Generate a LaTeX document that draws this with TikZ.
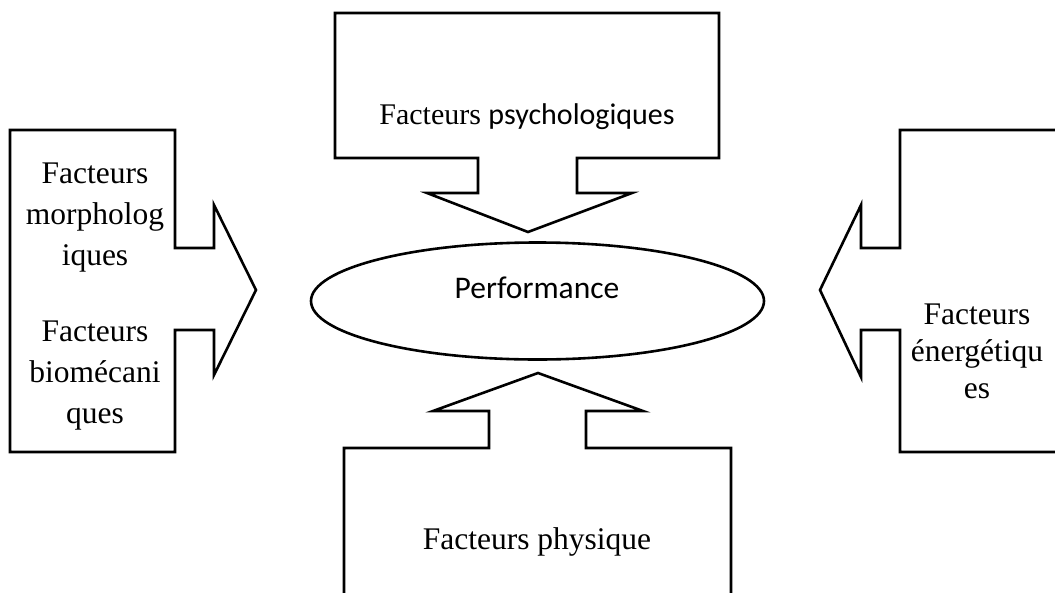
\documentclass[tikz,border=0pt]{standalone}
\usepackage{fontspec}
\setmainfont{Liberation Serif}
\newfontfamily\calibri{Carlito}
\usetikzlibrary{shapes.geometric}
\begin{document}
\begin{tikzpicture}[x=1pt,y=-1pt,line width=2.6pt,line join=miter]
	\tikzset{every node/.style={inner sep=0pt,font=\fontsize{31.5}{41}\selectfont,align=center}}
	\useasboundingbox (0,0) rectangle (1055,592);
	% callout arrows
	\draw (335,13) -- (719,13) -- (719,158) -- (577,158) -- (577,193) -- (632,193) -- (528,232) -- (427,193) -- (478,193) -- (478,158) -- (335,158) -- cycle;
	\draw (10,130) -- (175,130) -- (175,248) -- (214,248) -- (214,205) -- (256,290) -- (214,375) -- (214,330) -- (175,330) -- (175,452) -- (10,452) -- cycle;
	\draw (1070,130) -- (900,130) -- (900,248) -- (861,248) -- (861,205) -- (820,290) -- (861,377) -- (861,330) -- (900,330) -- (900,452) -- (1070,452);
	\draw (344,600) -- (344,448) -- (489,448) -- (489,411) -- (433,411) -- (538,373) -- (643,411) -- (586,411) -- (586,448) -- (731,448) -- (731,600);
	% centre
	\node [draw,ellipse,minimum width=453pt,minimum height=117pt] (perf) at (537.5,301) {};
	\node [anchor=base,font=\calibri\fontsize{31.5}{41}\selectfont] (perftxt) at (537,298) {Performance};
	% labels
	\node [anchor=base,font=\fontsize{30}{40}\selectfont] (psy) at (527,124) {Facteurs {\calibri psychologiques}};
	\node [anchor=base] (phys) at (537,549) {Facteurs physique};
	\node [anchor=base] (morph) at (95,265) {Facteurs\\morpholog\\iques};
	\node [anchor=base] (biomec) at (95,423) {Facteurs\\biomécani\\ques};
	\node [anchor=base,font=\fontsize{31.5}{37}\selectfont] (energ) at (977,398) {Facteurs\\énergétiqu\\es};
\end{tikzpicture}
\end{document}
